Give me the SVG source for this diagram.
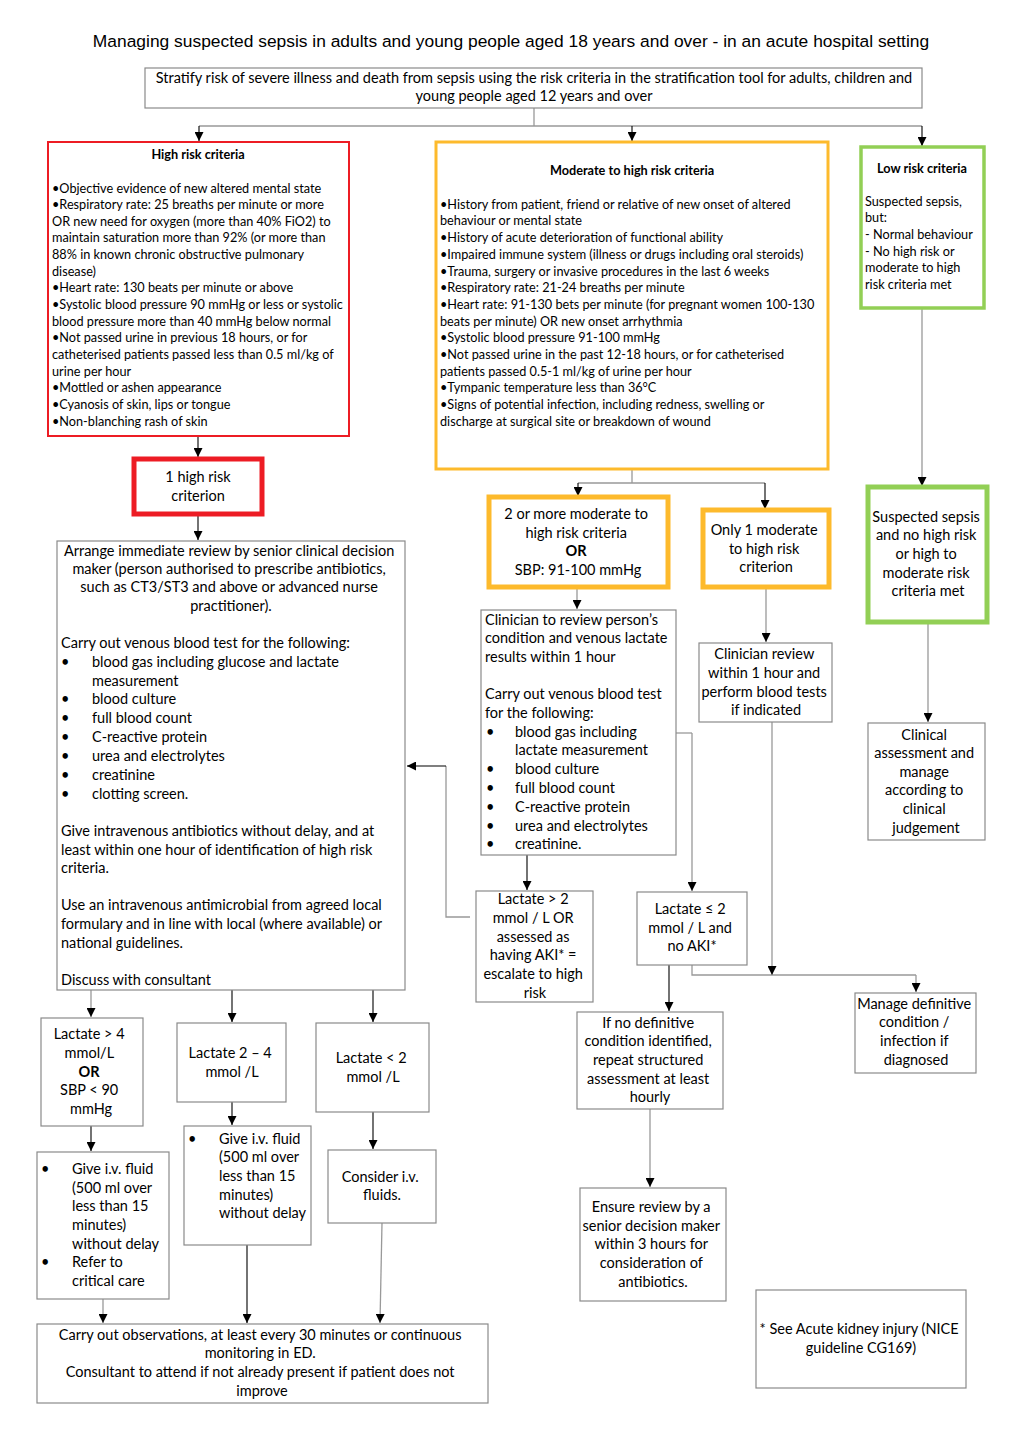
<svg xmlns="http://www.w3.org/2000/svg" width="1022" height="1450" viewBox="0 0 1022 1450">
<defs>
<marker id="ah" viewBox="0 0 10 10" refX="10" refY="5" markerWidth="9" markerHeight="9" markerUnits="userSpaceOnUse" orient="auto">
<path d="M0,0 L10,5 L0,10 z" fill="#000"/>
</marker>
</defs>
<style>
text{font-family:Lato,"Open Sans",sans-serif;fill:#000}
.title{font-family:"Liberation Sans",Arial,sans-serif;font-size:17.4px}
.t{font-size:14.5px}
.s{font-size:12.7px}
.b{font-weight:bold}
.m{text-anchor:middle}
.box{fill:#fff;stroke:#8a8a8a;stroke-width:1.2}
.red{fill:#fff;stroke:#ED1C24;stroke-width:2}
.redT{fill:#fff;stroke:#ED1C24;stroke-width:5}
.org{fill:#fff;stroke:#FDBA2C;stroke-width:3}
.orgT{fill:#fff;stroke:#FDBA2C;stroke-width:5}
.grn{fill:#fff;stroke:#92CF55;stroke-width:3.5}
.grnT{fill:#fff;stroke:#92CF55;stroke-width:5}
.c{fill:none;stroke:#000;stroke-width:1.1}
.g{fill:none;stroke:#999;stroke-width:1.3}
.a{marker-end:url(#ah)}
</style>
<rect width="1022" height="1450" fill="#fff"/>
<text class="title m" x="511" y="47">Managing suspected sepsis in adults and young people aged 18 years and over - in an acute hospital setting</text>

<g id="connectors">
<path class="g" d="M534,108 V126"/>
<path class="g" d="M199,126 H922"/>
<path class="c a" d="M199,126 V141"/>
<path class="c a" d="M632,126 V141"/>
<path class="c a" d="M922,126 V146"/>
<path class="c a" d="M198,436 V457"/>
<path class="c a" d="M198,514 V540"/>
<path class="g" d="M632,469 V483 M578,483 H765"/>
<path class="c a" d="M578,483 V496"/>
<path class="c a" d="M765,483 V509"/>
<path class="g a" d="M922,308 V486"/>
<path class="g a" d="M577,587 V609"/>
<path class="g a" d="M766,587 V642"/>
<path class="g a" d="M928,622 V722"/>
<path class="c a" d="M527,855 V890"/>
<path class="g" d="M470,917 H446 V766"/>
<path class="c a" d="M446,766 H407"/>
<path class="g" d="M676,733 H692"/>
<path class="g a" d="M692,733 V891"/>
<path class="c a" d="M669,965 V1011"/>
<path class="g" d="M692,965 V975 H916"/>
<path class="g a" d="M916,975 V992"/>
<path class="g a" d="M772,722 V975"/>
<path class="g a" d="M650,1109 V1187"/>
<path class="g a" d="M91,990 V1017"/>
<path class="c a" d="M232,990 V1022"/>
<path class="c a" d="M373,990 V1022"/>
<path class="c a" d="M91,1126 V1151"/>
<path class="c a" d="M232,1102 V1125"/>
<path class="c a" d="M373,1112 V1149"/>
<path class="g a" d="M103,1299 V1323"/>
<path class="c a" d="M247,1245 V1323"/>
<path class="g a" d="M382,1223 L380,1323"/>
</g>

<g id="stratify">
<rect class="box" x="145" y="68" width="777" height="40"/>
<text class="t m" x="534" y="83">Stratify risk of severe illness and death from sepsis using the risk criteria in the stratification tool for adults, children and</text>
<text class="t m" x="534" y="101">young people aged 12 years and over</text>
</g>

<g id="high-risk-criteria">
<rect class="red" x="48" y="142" width="301" height="294"/>
<text class="s b m" x="198" y="159">High risk criteria</text>
<text class="s" x="52">
<tspan x="52" y="193">•Objective evidence of new altered mental state</tspan>
<tspan x="52" y="209">•Respiratory rate: 25 breaths per minute or more</tspan>
<tspan x="52" y="226">OR new need for oxygen (more than 40% FiO2) to</tspan>
<tspan x="52" y="242">maintain saturation more than 92% (or more than</tspan>
<tspan x="52" y="259">88% in known chronic obstructive pulmonary</tspan>
<tspan x="52" y="276">disease)</tspan>
<tspan x="52" y="292">•Heart rate: 130 beats per minute or above</tspan>
<tspan x="52" y="309">•Systolic blood pressure 90 mmHg or less or systolic</tspan>
<tspan x="52" y="326">blood pressure more than 40 mmHg below normal</tspan>
<tspan x="52" y="342">•Not passed urine in previous 18 hours, or for</tspan>
<tspan x="52" y="359">catheterised patients passed less than 0.5 ml/kg of</tspan>
<tspan x="52" y="376">urine per hour</tspan>
<tspan x="52" y="392">•Mottled or ashen appearance</tspan>
<tspan x="52" y="409">•Cyanosis of skin, lips or tongue</tspan>
<tspan x="52" y="426">•Non-blanching rash of skin</tspan>
</text>
</g>

<g id="moderate-risk-criteria">
<rect class="org" x="436" y="142" width="392" height="327"/>
<text class="s b m" x="632" y="175">Moderate to high risk criteria</text>
<text class="s">
<tspan x="440" y="209">•History from patient, friend or relative of new onset of altered</tspan>
<tspan x="440" y="225">behaviour or mental state</tspan>
<tspan x="440" y="242">•History of acute deterioration of functional ability</tspan>
<tspan x="440" y="259">•Impaired immune system (illness or drugs including oral steroids)</tspan>
<tspan x="440" y="276">•Trauma, surgery or invasive procedures in the last 6 weeks</tspan>
<tspan x="440" y="292">•Respiratory rate: 21-24 breaths per minute</tspan>
<tspan x="440" y="309">•Heart rate: 91-130 bets per minute (for pregnant women 100-130</tspan>
<tspan x="440" y="326">beats per minute) OR new onset arrhythmia</tspan>
<tspan x="440" y="342">•Systolic blood pressure 91-100 mmHg</tspan>
<tspan x="440" y="359">•Not passed urine in the past 12-18 hours, or for catheterised</tspan>
<tspan x="440" y="376">patients passed 0.5-1 ml/kg of urine per hour</tspan>
<tspan x="440" y="392">•Tympanic temperature less than 36°C</tspan>
<tspan x="440" y="409">•Signs of potential infection, including redness, swelling or</tspan>
<tspan x="440" y="426">discharge at surgical site or breakdown of wound</tspan>
</text>
</g>

<g id="low-risk-criteria">
<rect class="grn" x="861" y="147" width="123" height="161"/>
<text class="s b m" x="922" y="173">Low risk criteria</text>
<text class="s">
<tspan x="865" y="206">Suspected sepsis,</tspan>
<tspan x="865" y="222">but:</tspan>
<tspan x="865" y="239">- Normal behaviour</tspan>
<tspan x="865" y="256">- No high risk or</tspan>
<tspan x="865" y="272">moderate to high</tspan>
<tspan x="865" y="289">risk criteria met</tspan>
</text>
</g>

<g id="one-high-risk">
<rect class="redT" x="134" y="459" width="128" height="55"/>
<text class="t m"><tspan x="198" y="482">1 high risk</tspan><tspan x="198" y="501">criterion</tspan></text>
</g>

<g id="immediate-review">
<rect class="box" x="57" y="541" width="348" height="449"/>
<text class="t m">
<tspan x="231" y="556">Arrange immediate review by senior clinical decision</tspan>
<tspan x="231" y="574">maker (person authorised to prescribe antibiotics,</tspan>
<tspan x="231" y="592">such as CT3/ST3 and above or advanced nurse</tspan>
<tspan x="231" y="611">practitioner).</tspan>
</text>
<text class="t">
<tspan x="61" y="648">Carry out venous blood test for the following:</tspan>
<tspan x="61" y="667">•</tspan><tspan x="92" y="667">blood gas including glucose and lactate</tspan>
<tspan x="92" y="686">measurement</tspan>
<tspan x="61" y="704">•</tspan><tspan x="92" y="704">blood culture</tspan>
<tspan x="61" y="723">•</tspan><tspan x="92" y="723">full blood count</tspan>
<tspan x="61" y="742">•</tspan><tspan x="92" y="742">C-reactive protein</tspan>
<tspan x="61" y="761">•</tspan><tspan x="92" y="761">urea and electrolytes</tspan>
<tspan x="61" y="780">•</tspan><tspan x="92" y="780">creatinine</tspan>
<tspan x="61" y="799">•</tspan><tspan x="92" y="799">clotting screen.</tspan>
<tspan x="61" y="836">Give intravenous antibiotics without delay, and at</tspan>
<tspan x="61" y="855">least within one hour of identification of high risk</tspan>
<tspan x="61" y="873">criteria.</tspan>
<tspan x="61" y="910">Use an intravenous antimicrobial from agreed local</tspan>
<tspan x="61" y="929">formulary and in line with local (where available) or</tspan>
<tspan x="61" y="948">national guidelines.</tspan>
<tspan x="61" y="985">Discuss with consultant</tspan>
</text>
</g>

<g id="two-or-more">
<rect class="orgT" x="489" y="497" width="179" height="90"/>
<text class="t m">
<tspan x="578" y="519">2 or more moderate to</tspan>
<tspan x="578" y="538">high risk criteria</tspan>
<tspan x="578" y="556" class="b">OR</tspan>
<tspan x="578" y="575">SBP: 91-100 mmHg</tspan>
</text>
</g>

<g id="only-one-moderate">
<rect class="orgT" x="703" y="510" width="126" height="77"/>
<text class="t m">
<tspan x="766" y="535">Only 1 moderate</tspan>
<tspan x="766" y="554">to high risk</tspan>
<tspan x="766" y="572">criterion</tspan>
</text>
</g>

<g id="no-risk-met">
<rect class="grnT" x="868" y="487" width="119" height="135"/>
<text class="t m">
<tspan x="928" y="522">Suspected sepsis</tspan>
<tspan x="928" y="540">and no high risk</tspan>
<tspan x="928" y="559">or high to</tspan>
<tspan x="928" y="578">moderate risk</tspan>
<tspan x="928" y="596">criteria met</tspan>
</text>
</g>

<g id="clinician-review-lactate">
<rect class="box" x="481" y="610" width="195" height="245"/>
<text class="t">
<tspan x="485" y="625">Clinician to review person’s</tspan>
<tspan x="485" y="643">condition and venous lactate</tspan>
<tspan x="485" y="662">results within 1 hour</tspan>
<tspan x="485" y="699">Carry out venous blood test</tspan>
<tspan x="485" y="718">for the following:</tspan>
<tspan x="486" y="737">•</tspan><tspan x="515" y="737">blood gas including</tspan>
<tspan x="515" y="755">lactate measurement</tspan>
<tspan x="486" y="774">•</tspan><tspan x="515" y="774">blood culture</tspan>
<tspan x="486" y="793">•</tspan><tspan x="515" y="793">full blood count</tspan>
<tspan x="486" y="812">•</tspan><tspan x="515" y="812">C-reactive protein</tspan>
<tspan x="486" y="831">•</tspan><tspan x="515" y="831">urea and electrolytes</tspan>
<tspan x="486" y="849">•</tspan><tspan x="515" y="849">creatinine.</tspan>
</text>
</g>

<g id="clinician-review-1h">
<rect class="box" x="699" y="643" width="133" height="79"/>
<text class="t m">
<tspan x="766" y="659">Clinician review</tspan>
<tspan x="766" y="678">within 1 hour and</tspan>
<tspan x="766" y="697">perform blood tests</tspan>
<tspan x="766" y="715">if indicated</tspan>
</text>
</g>

<g id="clinical-assessment">
<rect class="box" x="868" y="723" width="117" height="117"/>
<text class="t m">
<tspan x="926" y="740">Clinical</tspan>
<tspan x="926" y="758">assessment and</tspan>
<tspan x="926" y="777">manage</tspan>
<tspan x="926" y="795">according to</tspan>
<tspan x="926" y="814">clinical</tspan>
<tspan x="926" y="833">judgement</tspan>
</text>
</g>

<g id="lactate-gt2">
<rect class="box" x="476" y="891" width="117" height="111"/>
<text class="t m">
<tspan x="535" y="904">Lactate &gt; 2</tspan>
<tspan x="535" y="923">mmol / L OR</tspan>
<tspan x="535" y="942">assessed as</tspan>
<tspan x="535" y="960">having AKI* =</tspan>
<tspan x="535" y="979">escalate to high</tspan>
<tspan x="535" y="998">risk</tspan>
</text>
</g>

<g id="lactate-le2">
<rect class="box" x="637" y="892" width="110" height="73"/>
<text class="t m">
<tspan x="692" y="914">Lactate ≤ 2</tspan>
<tspan x="692" y="933">mmol / L and</tspan>
<tspan x="692" y="951">no AKI*</tspan>
</text>
</g>

<g id="manage-definitive">
<rect class="box" x="855" y="993" width="121" height="80"/>
<text class="t m">
<tspan x="916" y="1009">Manage definitive</tspan>
<tspan x="916" y="1027">condition /</tspan>
<tspan x="916" y="1046">infection if</tspan>
<tspan x="916" y="1065">diagnosed</tspan>
</text>
</g>

<g id="no-definitive">
<rect class="box" x="577" y="1012" width="146" height="97"/>
<text class="t m">
<tspan x="650" y="1028">If no definitive</tspan>
<tspan x="650" y="1046">condition identified,</tspan>
<tspan x="650" y="1065">repeat structured</tspan>
<tspan x="650" y="1084">assessment at least</tspan>
<tspan x="650" y="1102">hourly</tspan>
</text>
</g>

<g id="ensure-review">
<rect class="box" x="580" y="1188" width="146" height="113"/>
<text class="t m">
<tspan x="653" y="1212">Ensure review by a</tspan>
<tspan x="653" y="1231">senior decision maker</tspan>
<tspan x="653" y="1249">within 3 hours for</tspan>
<tspan x="653" y="1268">consideration of</tspan>
<tspan x="653" y="1287">antibiotics.</tspan>
</text>
</g>

<g id="aki-note">
<rect class="box" x="756" y="1290" width="210" height="98"/>
<text class="t m">
<tspan x="861" y="1334">* See Acute kidney injury (NICE</tspan>
<tspan x="861" y="1353">guideline CG169)</tspan>
</text>
</g>

<g id="lactate-gt4">
<rect class="box" x="41" y="1018" width="102" height="108"/>
<text class="t m">
<tspan x="91" y="1039">Lactate &gt; 4</tspan>
<tspan x="91" y="1058">mmol/L</tspan>
<tspan x="91" y="1077" class="b">OR</tspan>
<tspan x="91" y="1095">SBP &lt; 90</tspan>
<tspan x="91" y="1114">mmHg</tspan>
</text>
</g>

<g id="lactate-2-4">
<rect class="box" x="177" y="1023" width="109" height="79"/>
<text class="t m">
<tspan x="232" y="1058">Lactate 2 – 4</tspan>
<tspan x="232" y="1077">mmol /L</tspan>
</text>
</g>

<g id="lactate-lt2">
<rect class="box" x="316" y="1023" width="113" height="89"/>
<text class="t m">
<tspan x="373" y="1063">Lactate &lt; 2</tspan>
<tspan x="373" y="1082">mmol /L</tspan>
</text>
</g>

<g id="fluid-critical">
<rect class="box" x="37" y="1152" width="132" height="147"/>
<text class="t">
<tspan x="41" y="1174">•</tspan><tspan x="72" y="1174">Give i.v. fluid</tspan>
<tspan x="72" y="1193">(500 ml over</tspan>
<tspan x="72" y="1211">less than 15</tspan>
<tspan x="72" y="1230">minutes)</tspan>
<tspan x="72" y="1249">without delay</tspan>
<tspan x="41" y="1267">•</tspan><tspan x="72" y="1267">Refer to</tspan>
<tspan x="72" y="1286">critical care</tspan>
</text>
</g>

<g id="fluid">
<rect class="box" x="184" y="1126" width="127" height="119"/>
<text class="t">
<tspan x="188" y="1144">•</tspan><tspan x="219" y="1144">Give i.v. fluid</tspan>
<tspan x="219" y="1162">(500 ml over</tspan>
<tspan x="219" y="1181">less than 15</tspan>
<tspan x="219" y="1200">minutes)</tspan>
<tspan x="219" y="1218">without delay</tspan>
</text>
</g>

<g id="consider-fluids">
<rect class="box" x="328" y="1150" width="108" height="73"/>
<text class="t m">
<tspan x="382" y="1182">Consider i.v.</tspan>
<tspan x="382" y="1200">fluids.</tspan>
</text>
</g>

<g id="observations">
<rect class="box" x="37" y="1324" width="451" height="79"/>
<text class="t m">
<tspan x="262" y="1340">Carry out observations, at least every 30 minutes or continuous</tspan>
<tspan x="262" y="1358">monitoring in ED.</tspan>
<tspan x="262" y="1377">Consultant to attend if not already present if patient does not</tspan>
<tspan x="262" y="1396">improve</tspan>
</text>
</g>
</svg>
